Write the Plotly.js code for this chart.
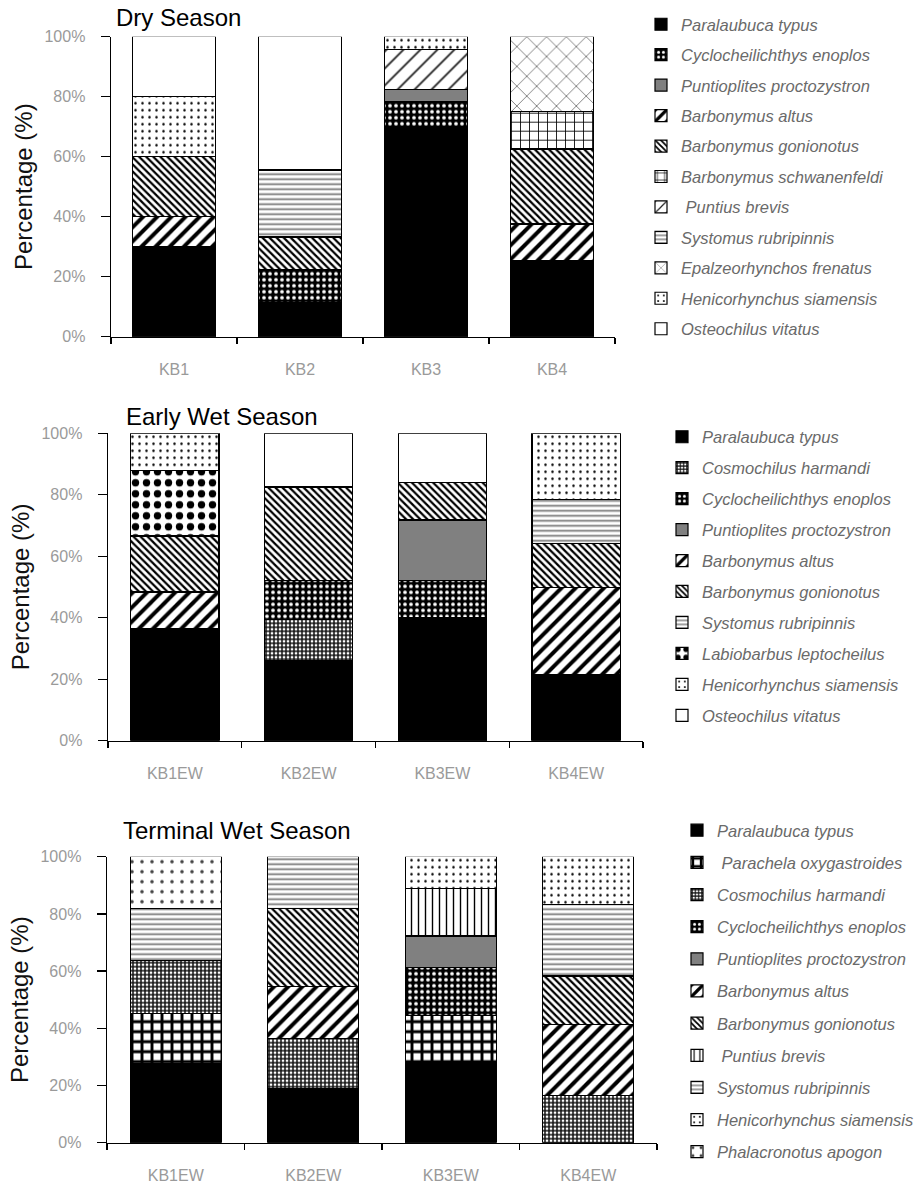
<!DOCTYPE html>
<html>
<head>
<meta charset="utf-8">
<script src="https://cdn.plot.ly/plotly-3.0.1.min.js"></script>
<style>html,body{margin:0;padding:0;background:#fff;}#chart{width:919px;height:1185px;}</style>
</head>
<body>
<div id="chart"></div>
<script>
// ---------------- DATA ----------------
const dryTitle = 'Dry Season';
const dryCats = ['KB1', 'KB2', 'KB3', 'KB4'];
const drySpecies = ['Paralaubuca typus', 'Cyclocheilichthys enoplos', 'Puntioplites proctozystron',
  'Barbonymus altus', 'Barbonymus gonionotus', 'Barbonymus schwanenfeldi', 'Puntius brevis',
  'Systomus rubripinnis', 'Epalzeorhynchos frenatus', 'Henicorhynchus siamensis', 'Osteochilus vitatus'];
const dryValues = [
  [30, 11.3, 70, 25.3],
  [null, 10.9, 8.3, null],
  [null, null, 4.2, null],
  [10, null, null, 12.3],
  [20, 11, null, 25],
  [null, null, null, 12.5],
  [null, null, 13.3, null],
  [null, 22.4, null, null],
  [null, null, null, 24.9],
  [20, null, 4.2, null],
  [20, 44.4, null, null]
];

const earlyTitle = 'Early Wet Season';
const earlyCats = ['KB1EW', 'KB2EW', 'KB3EW', 'KB4EW'];
const earlySpecies = ['Paralaubuca typus', 'Cosmochilus harmandi', 'Cyclocheilichthys enoplos',
  'Puntioplites proctozystron', 'Barbonymus altus', 'Barbonymus gonionotus', 'Systomus rubripinnis',
  'Labiobarbus leptocheilus', 'Henicorhynchus siamensis', 'Osteochilus vitatus'];
const earlyValues = [
  [36.6, 26, 40.1, 21.4],
  [null, 13.5, null, null],
  [null, 12.5, 11.9, null],
  [null, null, 19.8, null],
  [11.8, null, null, 28.5],
  [18.2, 30.5, 12.1, 14.3],
  [null, null, null, 14.3],
  [21.2, null, null, null],
  [12.2, null, null, 21.5],
  [null, 17.5, 16.1, null]
];

const termTitle = 'Terminal Wet Season';
const termCats = ['KB1EW', 'KB2EW', 'KB3EW', 'KB4EW'];
const termSpecies = ['Paralaubuca typus', 'Parachela oxygastroides', 'Cosmochilus harmandi',
  'Cyclocheilichthys enoplos', 'Puntioplites proctozystron', 'Barbonymus altus', 'Barbonymus gonionotus',
  'Puntius brevis', 'Systomus rubripinnis', 'Henicorhynchus siamensis', 'Phalacronotus apogon'];
const termValues = [
  [27.5, 19, 28, null],
  [17.7, null, 16.6, null],
  [18.4, 17.4, null, 16.4],
  [null, null, 16.6, null],
  [null, null, 11.1, null],
  [null, 18.1, null, 25],
  [null, 27.5, null, 16.9],
  [null, null, 16.5, null],
  [18.4, 18, null, 25.1],
  [null, null, 11.2, 16.6],
  [18, null, null, null]
];

const yTicks = [0, 20, 40, 60, 80, 100];
const yTickLabels = ['0%', '20%', '40%', '60%', '80%', '100%'];

// ---------------- STYLES ----------------
const W = 919, H = 1185;
function solid(c) { return { color: c, pattern: { shape: '' } }; }
function pat(shape, bg, fg, size, sol) {
  return { color: fg, pattern: { shape: shape, fillmode: 'replace', bgcolor: bg, fgcolor: fg, size: size, solidity: sol } };
}
const styles = {
  'Paralaubuca typus': solid('#000000'),
  'Cyclocheilichthys enoplos': pat('.', '#000000', '#ffffff', 6, 0.3),
  'Puntioplites proctozystron': solid('#808080'),
  'Barbonymus altus': pat('/', '#ffffff', '#000000', 10, 0.4),
  'Barbonymus gonionotus': pat('\\', '#ffffff', '#000000', 5, 0.45),
  'Barbonymus schwanenfeldi': pat('+', '#ffffff', '#000000', 9, 0.18),
  'Puntius brevis': pat('/', '#ffffff', '#222222', 12, 0.15),
  'Systomus rubripinnis': pat('-', '#ffffff', '#777777', 5, 0.35),
  'Epalzeorhynchos frenatus': pat('x', '#ffffff', '#555555', 14, 0.1),
  'Henicorhynchus siamensis': pat('.', '#ffffff', '#000000', 7, 0.1),
  'Osteochilus vitatus': solid('#ffffff'),
  'Cosmochilus harmandi': pat('+', '#ffffff', '#111111', 4, 0.6),
  'Labiobarbus leptocheilus': pat('.', '#ffffff', '#000000', 11, 0.35),
  'Parachela oxygastroides': pat('+', '#ffffff', '#000000', 10, 0.5),
  'Phalacronotus apogon': pat('.', '#ffffff', '#444444', 10, 0.1)
};
const panelOverrides = { 3: { 'Puntius brevis': pat('|', '#ffffff', '#000000', 7, 0.2) } };
const displayName = { 'Puntius brevis': '\u00a0Puntius brevis', 'Parachela oxygastroides': '\u00a0Parachela oxygastroides' };

const panels = [
  { n: 1, title: dryTitle, cats: dryCats, species: drySpecies, values: dryValues,
    px: [111, 615], py: [36.7, 336.7], titlePos: [114, 18], legend: [641, 7], gap: 6 },
  { n: 2, title: earlyTitle, cats: earlyCats, species: earlySpecies, values: earlyValues,
    px: [108, 643], py: [433.3, 740.7], titlePos: [124, 416.7], legend: [662, 419.5], gap: 6.5 },
  { n: 3, title: termTitle, cats: termCats, species: termSpecies, values: termValues,
    px: [107, 657], py: [856.7, 1142.7], titlePos: [121, 830], legend: [677, 813], gap: 7.7 }
];

const FONT = 'Liberation Sans, Arial, Helvetica, sans-serif';
const traces = [];
const layout = {
  width: W, height: H,
  margin: { l: 0, r: 0, t: 0, b: 0 },
  paper_bgcolor: '#ffffff', plot_bgcolor: '#ffffff',
  barmode: 'stack',
  showlegend: true,
  font: { family: FONT },
  annotations: []
};

panels.forEach(p => {
  const suf = p.n === 1 ? '' : String(p.n);
  const legName = p.n === 1 ? 'legend' : 'legend' + p.n;
  p.species.forEach((sp, i) => {
    const st = (panelOverrides[p.n] && panelOverrides[p.n][sp]) || styles[sp];
    traces.push({
      type: 'bar',
      x: p.cats,
      y: p.values[i],
      name: displayName[sp] || sp,
      xaxis: 'x' + suf, yaxis: 'y' + suf,
      legend: legName,
      legendgroup: 'p' + p.n + '_' + i,
      width: 0.66,
      cliponaxis: false,
      marker: Object.assign({}, st, { line: { color: '#000000', width: 1.2 } }),
      hoverinfo: 'skip'
    });
  });
  layout['xaxis' + suf] = {
    domain: [p.px[0] / W, p.px[1] / W],
    anchor: 'y' + suf,
    type: 'category',
    range: [-0.5, 3.5],
    tickson: 'boundaries',
    ticks: 'outside', ticklen: 6, tickwidth: 1.2, tickcolor: '#000',
    showline: true, linecolor: '#000', linewidth: 1.4,
    showgrid: false, zeroline: false,
    tickfont: { family: FONT, size: 16, color: '#9a9a9a' },
    ticklabelstandoff: 18,
    fixedrange: true
  };
  layout['yaxis' + suf] = {
    domain: [1 - p.py[1] / H, 1 - p.py[0] / H],
    anchor: 'x' + suf,
    range: [0, 100],
    tickmode: 'array',
    tickvals: yTicks,
    ticktext: yTickLabels,
    ticks: 'outside', ticklen: 9, tickwidth: 1.2, tickcolor: '#000',
    showline: true, linecolor: '#000', linewidth: 1.4,
    showgrid: false, zeroline: false,
    tickfont: { family: FONT, size: 16, color: '#9a9a9a' },
    ticklabelstandoff: 12,
    title: { text: 'Percentage (%)', font: { family: FONT, size: 24, color: '#111' }, standoff: 5 },
    fixedrange: true
  };
  layout[legName] = {
    x: p.legend[0] / W, y: 1 - p.legend[1] / H,
    xanchor: 'left', yanchor: 'top',
    traceorder: 'grouped',
    tracegroupgap: p.gap,
    bgcolor: 'rgba(0,0,0,0)',
    font: { family: FONT, size: 16.5, color: '#6a6a6a', style: 'italic' }
  };
  layout.annotations.push({
    text: p.title,
    xref: 'paper', yref: 'paper',
    x: p.titlePos[0] / W, y: 1 - p.titlePos[1] / H,
    xanchor: 'left', yanchor: 'middle',
    showarrow: false,
    font: { family: FONT, size: 24, color: '#000' }
  });
});

Plotly.newPlot('chart', traces, layout, { staticPlot: true, displayModeBar: false });
</script>
</body>
</html>
